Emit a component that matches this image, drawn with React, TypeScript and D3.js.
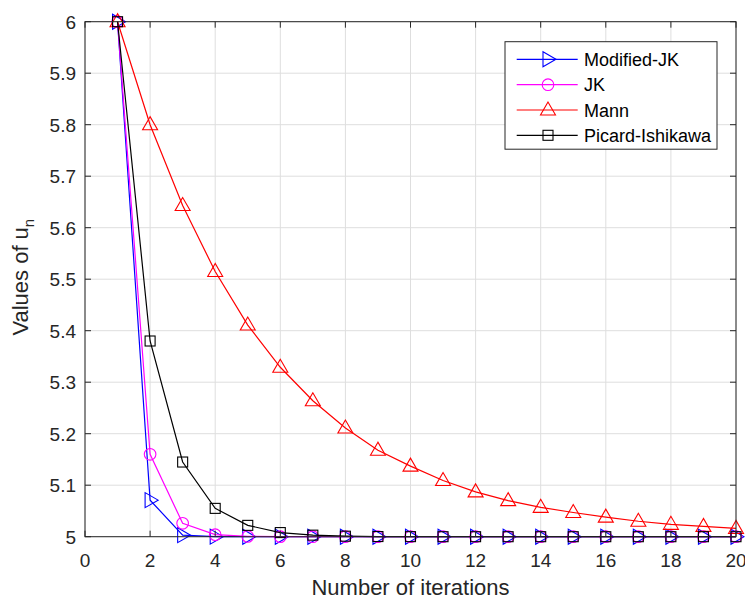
import React from "react";
import * as d3 from "d3";

const iterations = [1,2,3,4,5,6,7,8,9,10,11,12,13,14,15,16,17,18,19,20];
const modifiedJK = [6, 5.071, 5.003, 5.0001, 5, 5, 5, 5, 5, 5, 5, 5, 5, 5, 5, 5, 5, 5, 5, 5];
const jk = [6, 5.16, 5.026, 5.004, 5.0006, 5.0001, 5, 5, 5, 5, 5, 5, 5, 5, 5, 5, 5, 5, 5, 5];
const mann = [6, 5.8, 5.643, 5.515, 5.411, 5.329, 5.264, 5.211, 5.168, 5.137, 5.109, 5.087, 5.07, 5.057, 5.047, 5.038, 5.03, 5.024, 5.02, 5.016];
const picard = [6, 5.38, 5.145, 5.055, 5.022, 5.008, 5.003, 5.001, 5.0003, 5.0001, 5, 5, 5, 5, 5, 5, 5, 5, 5, 5];
const xTicks = [0, 2, 4, 6, 8, 10, 12, 14, 16, 18, 20];
const yTicks = [5, 5.1, 5.2, 5.3, 5.4, 5.5, 5.6, 5.7, 5.8, 5.9, 6];
const seriesNames = ["Modified-JK", "JK", "Mann", "Picard-Ishikawa"];

const W = 745, H = 599;
const L = 85, R = 736, T = 21.7, B = 536.7;
const FONT = "'Liberation Sans', Arial, Helvetica, sans-serif";
const AX = "#262626";

type Marker = "tri-right" | "circle" | "tri-up" | "square";

function MarkerShape({ type, x, y, color }: { type: Marker; x: number; y: number; color: string }) {
  if (type === "circle") return <circle cx={x} cy={y} r={5.8} fill="none" stroke={color} strokeWidth={1.1} />;
  if (type === "square") return <rect x={x - 5} y={y - 5} width={10} height={10} fill="none" stroke={color} strokeWidth={1.1} />;
  if (type === "tri-up") return <polygon points={`${x},${y - 8} ${x - 7.5},${y + 5} ${x + 7.5},${y + 5}`} fill="none" stroke={color} strokeWidth={1.1} />;
  return <polygon points={`${x + 8},${y} ${x - 5},${y - 7.5} ${x - 5},${y + 7.5}`} fill="none" stroke={color} strokeWidth={1.1} />;
}

export default function App() {
  const x = d3.scaleLinear().domain([0, 20]).range([L, R]);
  const y = d3.scaleLinear().domain([5, 6]).range([B, T]);
  const series: { data: number[]; color: string; marker: Marker }[] = [
    { data: modifiedJK, color: "#0000ff", marker: "tri-right" },
    { data: jk, color: "#ff00ff", marker: "circle" },
    { data: mann, color: "#ff0000", marker: "tri-up" },
    { data: picard, color: "#000000", marker: "square" },
  ];
  const line = d3.line<number>().x((_, i) => x(iterations[i])).y((d) => y(d));
  const tickLen = 6;
  const legX = 505, legY = 41.7, legW = 212, legH = 107.5;
  const rowY = [59.3, 84.7, 110, 135.3];
  return (
    <svg width={W} height={H} style={{ position: "absolute", left: 0, top: 0, background: "#fff" }}>
      <rect x={0} y={0} width={W} height={H} fill="#fff" />
      {xTicks.map((t) => (
        <line key={"gx" + t} x1={x(t)} x2={x(t)} y1={T} y2={B} stroke="#dedede" strokeWidth={1} />
      ))}
      {yTicks.map((t) => (
        <line key={"gy" + t} x1={L} x2={R} y1={y(t)} y2={y(t)} stroke="#dedede" strokeWidth={1} />
      ))}
      {series.map((s, si) => (
        <g key={si}>
          <path d={line(s.data) || ""} fill="none" stroke={s.color} strokeWidth={1.2} />
          {s.data.map((v, i) => (
            <MarkerShape key={i} type={s.marker} x={x(iterations[i])} y={y(v)} color={s.color} />
          ))}
        </g>
      ))}
      <rect x={L} y={T} width={R - L} height={B - T} fill="none" stroke={AX} strokeWidth={1} />
      {xTicks.map((t) => (
        <g key={"tx" + t}>
          <line x1={x(t)} x2={x(t)} y1={B} y2={B - tickLen} stroke={AX} />
          <line x1={x(t)} x2={x(t)} y1={T} y2={T + tickLen} stroke={AX} />
          <text x={x(t)} y={B + 30} textAnchor="middle" fontFamily={FONT} fontSize={19} fill={AX}>{t}</text>
        </g>
      ))}
      {yTicks.map((t) => (
        <g key={"ty" + t}>
          <line x1={L} x2={L + tickLen} y1={y(t)} y2={y(t)} stroke={AX} />
          <line x1={R} x2={R - tickLen} y1={y(t)} y2={y(t)} stroke={AX} />
          <text x={L - 9} y={y(t) + 7} textAnchor="end" fontFamily={FONT} fontSize={19} fill={AX}>{d3.format("")(t)}</text>
        </g>
      ))}
      <text x={(L + R) / 2} y={595} textAnchor="middle" fontFamily={FONT} fontSize={22} fill={AX}>Number of iterations</text>
      <text transform={`translate(28, ${(T + B) / 2 - 2}) rotate(-90)`} textAnchor="middle" fontFamily={FONT} fontSize={22} fill={AX}>
        Values of u<tspan dy={6} fontSize={15}>n</tspan>
      </text>
      <rect x={legX} y={legY} width={legW} height={legH} fill="#fff" stroke={AX} strokeWidth={1} />
      {series.map((s, i) => (
        <g key={"leg" + i}>
          <line x1={516.7} x2={577.7} y1={rowY[i]} y2={rowY[i]} stroke={s.color} strokeWidth={1.2} />
          <MarkerShape type={s.marker} x={548} y={rowY[i]} color={s.color} />
          <text x={584} y={rowY[i] + 6.5} fontFamily={FONT} fontSize={18} fill="#000">{seriesNames[i]}</text>
        </g>
      ))}
    </svg>
  );
}
